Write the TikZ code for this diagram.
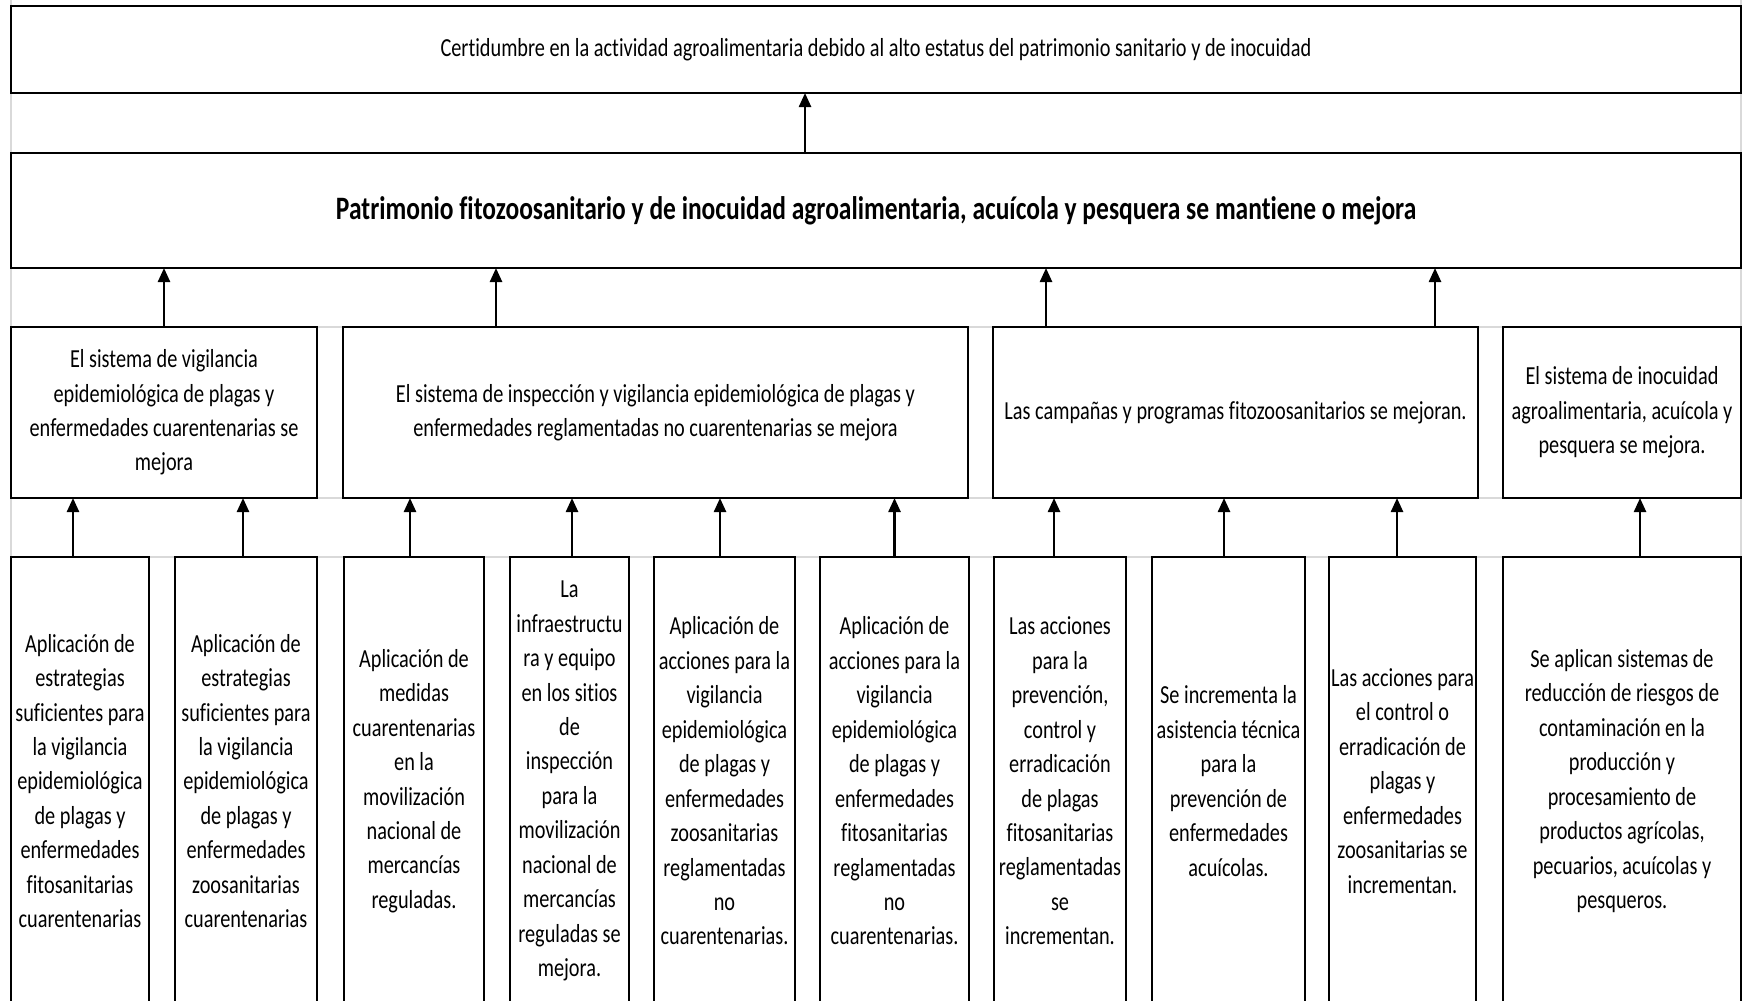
\documentclass[tikz,border=0pt]{standalone}
\usepackage{fontspec}
\setmainfont{Carlito}[FakeStretch=0.78,Ligatures=NoCommon]
\usetikzlibrary{arrows.meta}

\begin{document}
\begin{tikzpicture}[x=0.1mm,y=-0.1mm,
    box/.style={draw,line width=0.6pt,fill=white,align=center,inner sep=0,outer sep=0},
    goalbox/.style={box,minimum width=173mm,font=\fontsize{7.4}{9.8}\selectfont},
    midbox/.style={box,minimum height=17.1mm,font=\fontsize{7.4}{9.8}\selectfont},
    lowbox/.style={box,minimum height=44.8mm,font=\fontsize{7.4}{9.8}\selectfont},
    arr/.style={-{Triangle[length=1.4mm,width=1.2mm]},line width=0.7pt},
    grid/.style={gray!30,line width=0.5pt}]
  \useasboundingbox (0,0) rectangle (1743,1000);
  \clip (0,0) rectangle (1743,1000);
  % faint sheet lines
  \draw[grid] (11,0) -- (11,1000) (1741,0) -- (1741,1000);
  \draw[grid] (11,327) -- (1741,327) (11,498) -- (1741,498) (11,557) -- (1741,557);

  % top
  \node[goalbox,minimum height=8.7mm] (fin) at (876,49.5) {Certidumbre en la actividad agroalimentaria debido al alto estatus del patrimonio sanitario y de inocuidad};
  \node[goalbox,minimum height=11.5mm,font=\fontsize{9.3}{11}\selectfont\bfseries] (prop) at (876,210.5) {Patrimonio fitozoosanitario y de inocuidad agroalimentaria, acuícola y pesquera se mantiene o mejora};

  % components
  \node[midbox,minimum width=30.6mm] (c1) at (164,412.5) {El sistema de vigilancia\\epidemiológica de plagas y\\enfermedades cuarentenarias se\\mejora};
  \node[midbox,minimum width=62.5mm] (c2) at (655.5,412.5) {El sistema de inspección y vigilancia epidemiológica de plagas y\\enfermedades reglamentadas no cuarentenarias se mejora};
  \node[midbox,minimum width=48.5mm] (c3) at (1235.5,412.5) {Las campañas y programas fitozoosanitarios se mejoran.};
  \node[midbox,minimum width=23.8mm] (c4) at (1622,412.5) {El sistema de inocuidad\\agroalimentaria, acuícola y\\pesquera se mejora.};

  % activities
  \node[lowbox,minimum width=13.8mm] (a1) at (80,781) {Aplicación de\\estrategias\\suficientes para\\la vigilancia\\epidemiológica\\de plagas y\\enfermedades\\fitosanitarias\\cuarentenarias};
  \node[lowbox,minimum width=14.2mm] (a2) at (246,781) {Aplicación de\\estrategias\\suficientes para\\la vigilancia\\epidemiológica\\de plagas y\\enfermedades\\zoosanitarias\\cuarentenarias};
  \node[lowbox,minimum width=14mm] (a3) at (414,781) {Aplicación de\\medidas\\cuarentenarias\\en la\\movilización\\nacional de\\mercancías\\reguladas.};
  \node[lowbox,minimum width=11.9mm] (a4) at (569.5,781) {La\\infraestructu\\ra y equipo\\en los sitios\\de\\inspección\\para la\\movilización\\nacional de\\mercancías\\reguladas se\\mejora.};
  \node[lowbox,minimum width=14.1mm] (a5) at (724.5,781) {Aplicación de\\acciones para la\\vigilancia\\epidemiológica\\de plagas y\\enfermedades\\zoosanitarias\\reglamentadas\\no\\cuarentenarias.};
  \node[lowbox,minimum width=14.9mm] (a6) at (894.5,781) {Aplicación de\\acciones para la\\vigilancia\\epidemiológica\\de plagas y\\enfermedades\\fitosanitarias\\reglamentadas\\no\\cuarentenarias.};
  \node[lowbox,minimum width=13.2mm] (a7) at (1060,781) {Las acciones\\para la\\prevención,\\control y\\erradicación\\de plagas\\fitosanitarias\\reglamentadas\\se\\incrementan.};
  \node[lowbox,minimum width=15.3mm] (a8) at (1228.5,781) {Se incrementa la\\asistencia técnica\\para la\\prevención de\\enfermedades\\acuícolas.};
  \node[lowbox,minimum width=14.7mm] (a9) at (1402.5,781) {Las acciones para\\el control o\\erradicación de\\plagas y\\enfermedades\\zoosanitarias se\\incrementan.};
  \node[lowbox,minimum width=23.8mm] (a10) at (1622,781) {Se aplican sistemas de\\reducción de riesgos de\\contaminación en la\\producción y\\procesamiento de\\productos agrícolas,\\pecuarios, acuícolas y\\pesqueros.};

  % arrows
  \draw[arr] ([xshift=-7.1mm]prop.north) -- ([xshift=-7.1mm]prop.north |- fin.south);
  \draw[arr] (c1.north) -- (c1.north |- prop.south);
  \draw[arr] ([xshift=-15.95mm]c2.north) -- ([xshift=-15.95mm]c2.north |- prop.south);
  \draw[arr] ([xshift=-18.95mm]c3.north) -- ([xshift=-18.95mm]c3.north |- prop.south);
  \draw[arr] ([xshift=19.95mm]c3.north) -- ([xshift=19.95mm]c3.north |- prop.south);
  \foreach \a/\c/\s in {a1/c1/-0.7,a2/c1/-0.3,a3/c2/-0.4,a4/c2/0.25,a5/c2/-0.45,a6/c2/0,
                        a7/c3/-0.6,a8/c3/-0.45,a9/c3/-0.55,a10/c4/1.8}
    \draw[arr] ([xshift=\s mm]\a.north) -- ([xshift=\s mm]\a.north |- \c.south);
\end{tikzpicture}
\end{document}
